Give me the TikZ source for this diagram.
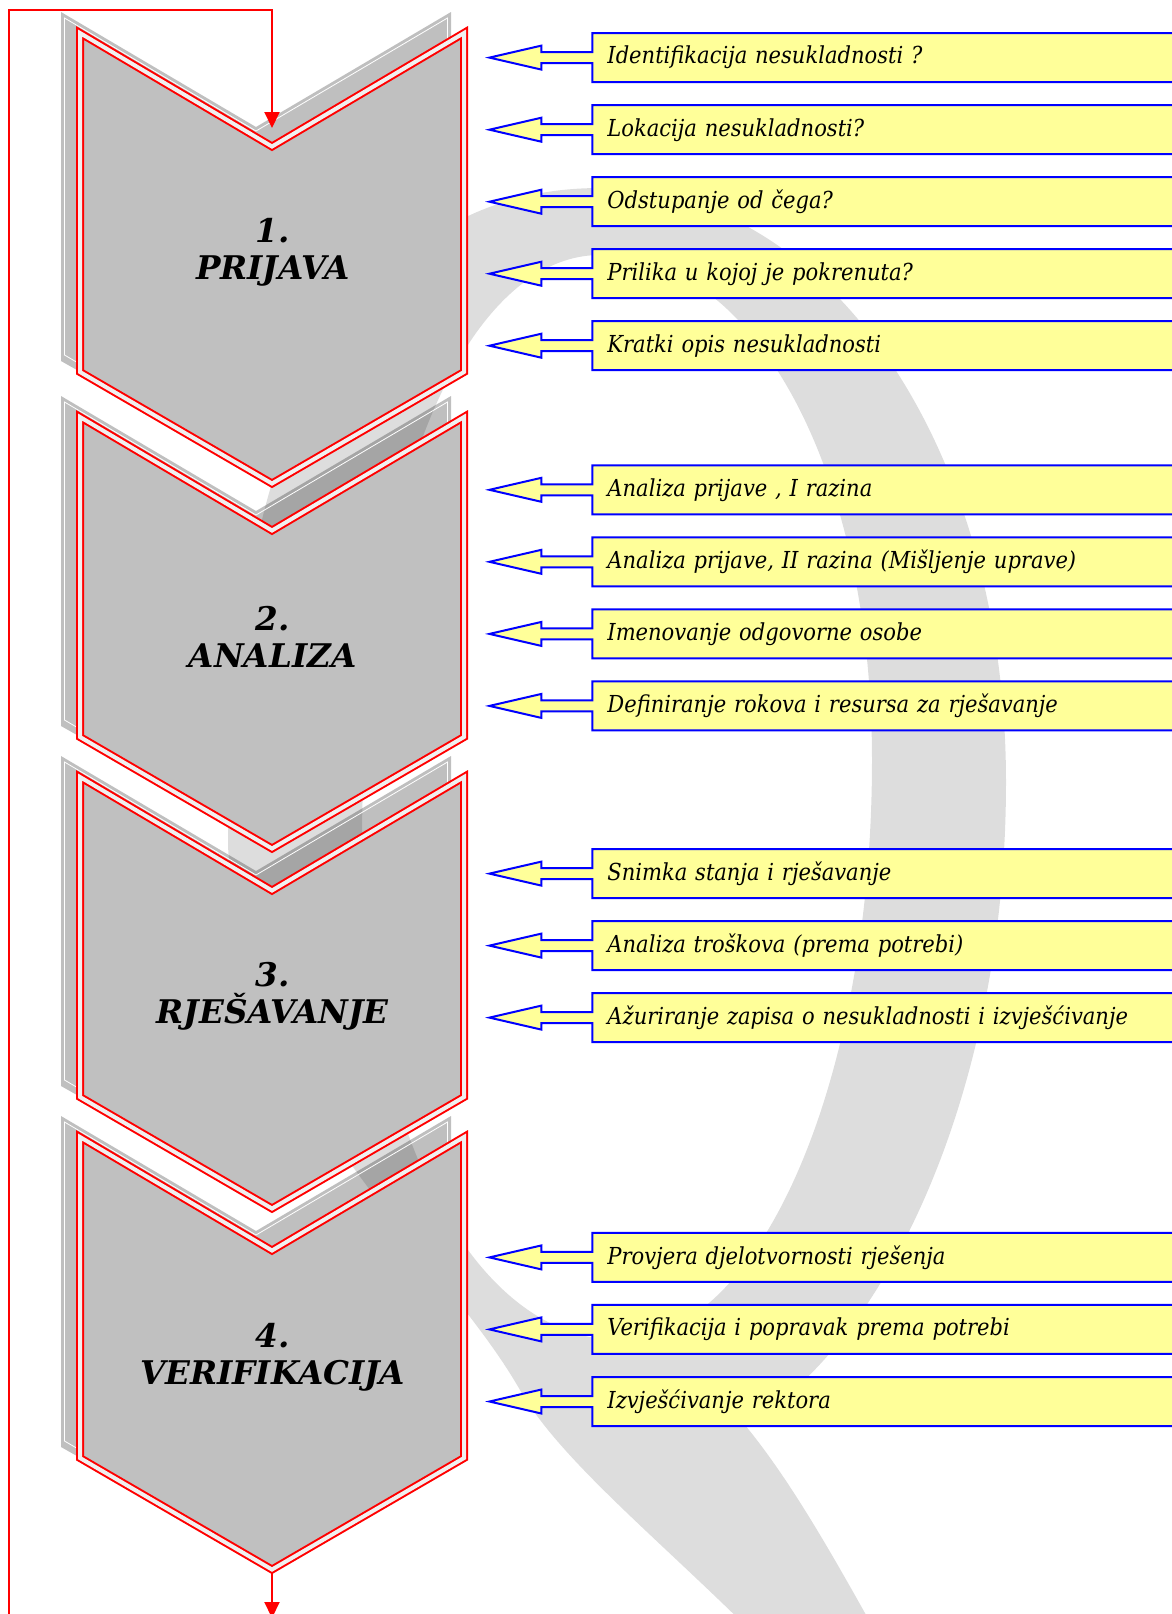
\documentclass[tikz,border=0pt]{standalone}
\usepackage{fontspec}
\setmainfont{DejaVu Serif}
\newfontfamily\notefont{DejaVu Serif Condensed}
\usepackage{tikz}
\usetikzlibrary{shapes.arrows,arrows.meta,calc}
\definecolor{stagegray}{RGB}{192,192,192}
\definecolor{flowred}{RGB}{255,0,0}
\definecolor{noteblue}{RGB}{0,0,255}
\definecolor{noteyellow}{RGB}{255,255,153}
\definecolor{markgray}{RGB}{221,221,221}

\begin{document}
\begin{tikzpicture}[
    x=0.5pt, y=-0.5pt,
    stage/.style={fill=stagegray, draw=flowred, line width=1pt, double=white!88!gray, double distance=2pt},
    stageshadow/.style={fill=black, fill opacity=0.25},
    shadowline/.style={white, line width=0.4pt},
    title/.style={align=center, font=\fontsize{16.3}{18.5}\selectfont\bfseries\itshape},
    note/.style={arrow box, arrow box arrows={west:51pt}, arrow box shaft width=5.5pt,
        arrow box head extend=3.25pt, arrow box tip angle=26, draw=noteblue, fill=noteyellow,
        line width=1pt, minimum height=24.5pt, text width=300pt, inner xsep=7.5pt, inner ysep=0pt,
        align=left, anchor=west, font=\notefont\itshape\fontsize{11.7}{13}\selectfont},
    flow/.style={-{Triangle[length=8pt,width=7.5pt]}, flowred, line width=1pt}
]
\clip (0,0) rectangle (1172,1614);

% background mark
\fill[markgray, even odd rule]
    (228,845) .. controls (228,420) and (360,188) .. (600,188)
    .. controls (830,188) and (1006,450) .. (1006,782)
    .. controls (1006,1100) and (880,1350) .. (745,1425)
    .. controls (790,1480) and (830,1550) .. (880,1640)
    -- (760,1640)
    .. controls (660,1540) and (560,1460) .. (520,1390)
    .. controls (440,1250) and (240,1100) .. (228,845) -- cycle
    (362,845) .. controls (362,480) and (470,255) .. (600,255)
    .. controls (760,255) and (872,480) .. (872,760)
    .. controls (872,1080) and (760,1340) .. (620,1340)
    .. controls (470,1340) and (362,1120) .. (362,845) -- cycle;

% shadows of the stages
\foreach \t/\c in {28/377, 412/742, 772/1102, 1132/1463} {
  \fill[stageshadow] (61,\t-16) -- (256,\t+99) -- (451,\t-16) -- (451,\c-16) -- (256,\c+94) -- (61,\c-16) -- cycle;
  \draw[shadowline] (64.5,\t-10) -- (256,\t+103) -- (447.5,\t-10) -- (447.5,\c-22) -- (256,\c+90) -- (64.5,\c-22) -- cycle;
}

% stages
\foreach \t/\c/\k in {28/377/1, 412/742/2, 772/1102/3, 1132/1463/4} {
  \draw[stage] (80,\t+5) -- (272,\t+118.5) -- (464,\t+5) -- (464,\c-5) -- (272,\c+106.5) -- (80,\c-5) -- cycle;
  \coordinate (tip\k) at (272,\c+110);
}

\node[title] (stage1) at (272.7,252.6) {1.\\PRIJAVA};
\node[title] (stage2) at (272.7,636.5) {2.\\ANALIZA};
\node[title] (stage3) at (272.7,996.7) {3.\\RJEŠAVANJE};
\node[title] (stage4) at (272.7,1356.8) {4.\\VERIFIKACIJA};

% 1. prijava
\node[note] (p1) at (485,57.6) {Identifikacija nesukladnosti ?};
\node[note] (p2) at (485,129.7) {Lokacija nesukladnosti?};
\node[note] (p3) at (485,201.7) {Odstupanje od čega?};
\node[note] (p4) at (485,273.7) {Prilika u kojoj je pokrenuta?};
\node[note] (p5) at (485,345.7) {Kratki opis nesukladnosti};

% 2. analiza
\node[note] (a1) at (485,489.8) {Analiza prijave , I razina};
\node[note] (a2) at (485,561.8) {Analiza prijave, II razina (Mišljenje uprave)};
\node[note] (a3) at (485,633.9) {Imenovanje odgovorne osobe};
\node[note] (a4) at (485,705.9) {Definiranje rokova i resursa za rješavanje};

% 3. rjesavanje
\node[note] (r1) at (485,873.6) {Snimka stanja i rješavanje};
\node[note] (r2) at (485,945.6) {Analiza troškova (prema potrebi)};
\node[note] (r3) at (485,1017.6) {Ažuriranje zapisa o nesukladnosti i izvješćivanje};

% 4. verifikacija
\node[note] (v1) at (485,1257.4) {Provjera djelotvornosti rješenja};
\node[note] (v2) at (485,1329.4) {Verifikacija i popravak prema potrebi};
\node[note] (v3) at (485,1401.5) {Izvješćivanje rektora};

% loop back to the start
\coordinate (exit) at (272,1618);
\coordinate (loopfoot) at (8.5,1620);
\coordinate (looptop) at (8.5,10);
\coordinate (entry) at (272,128);
\draw[flow] (tip4) -- (exit);
\draw[flow] (loopfoot) -- (looptop) -| (entry);

\end{tikzpicture}
\end{document}
